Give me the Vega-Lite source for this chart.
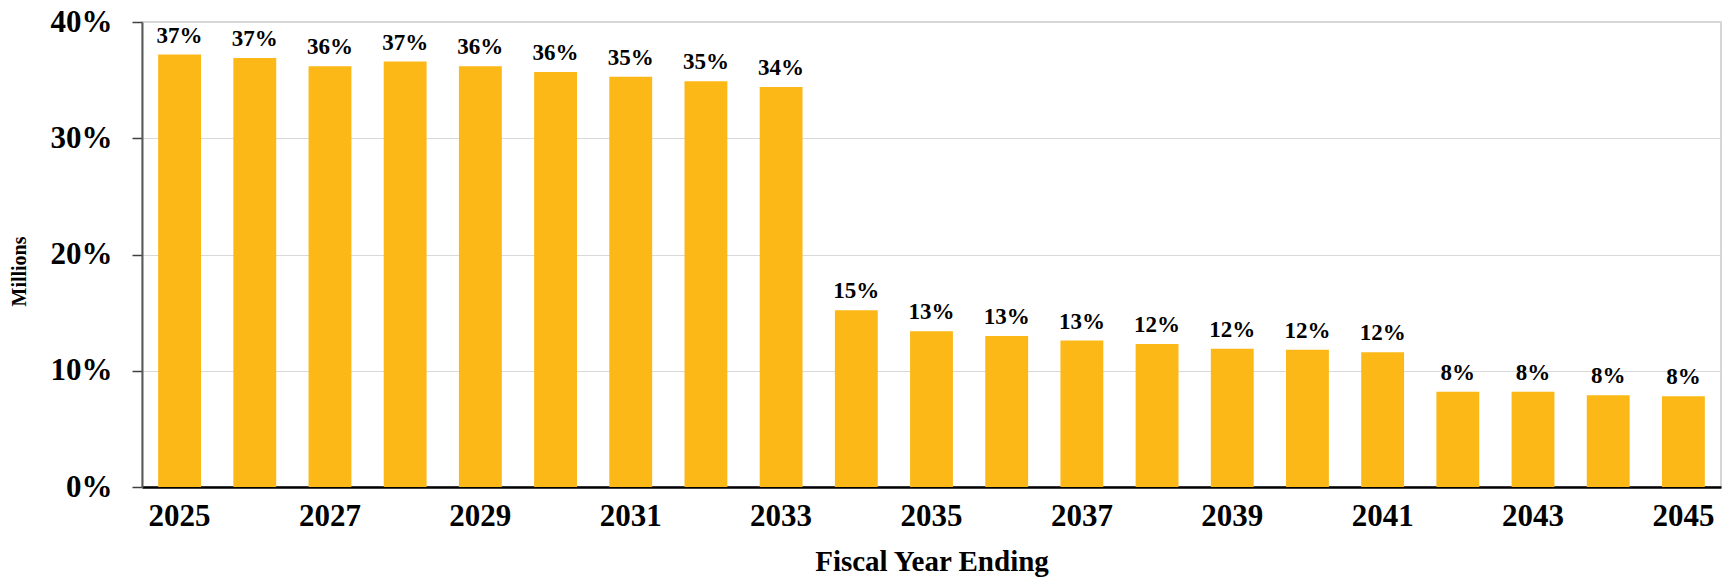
{
  "$schema": "https://vega.github.io/schema/vega-lite/v6.json",
  "width": 1579,
  "height": 465,
  "autosize": {"type": "none"},
  "padding": {"left": 142, "top": 22, "right": 2, "bottom": 91},
  "background": "white",
  "config": {
    "view": {"stroke": "#c8c8c8", "strokeWidth": 1.5},
    "font": "Liberation Serif"
  },
  "data": {
    "values": [
      {"year": "2025", "share": 0.372},
      {"year": "2026", "share": 0.369},
      {"year": "2027", "share": 0.362},
      {"year": "2028", "share": 0.366},
      {"year": "2029", "share": 0.362},
      {"year": "2030", "share": 0.357},
      {"year": "2031", "share": 0.353},
      {"year": "2032", "share": 0.349},
      {"year": "2033", "share": 0.344},
      {"year": "2034", "share": 0.152},
      {"year": "2035", "share": 0.134},
      {"year": "2036", "share": 0.130},
      {"year": "2037", "share": 0.126},
      {"year": "2038", "share": 0.123},
      {"year": "2039", "share": 0.119},
      {"year": "2040", "share": 0.118},
      {"year": "2041", "share": 0.116},
      {"year": "2042", "share": 0.082},
      {"year": "2043", "share": 0.082},
      {"year": "2044", "share": 0.079},
      {"year": "2045", "share": 0.078}
    ]
  },
  "encoding": {
    "x": {
      "field": "year",
      "type": "ordinal",
      "scale": {"paddingInner": 0.43, "paddingOuter": 0.215},
      "axis": {
        "title": "Fiscal Year Ending",
        "labelAngle": 0,
        "labelExpr": "(toNumber(datum.value) - 2025) % 2 == 0 ? datum.value : ''",
        "labelFont": "Liberation Serif",
        "labelFontWeight": "bold",
        "labelFontSize": 31,
        "labelColor": "black",
        "labelPadding": 14,
        "ticks": false,
        "domainColor": "black",
        "domainWidth": 2.5,
        "titleFont": "Liberation Serif",
        "titleFontWeight": "bold",
        "titleFontSize": 29,
        "titleColor": "black",
        "titlePadding": 16
      }
    },
    "y": {
      "field": "share",
      "type": "quantitative",
      "scale": {"domain": [0, 0.4]},
      "axis": {
        "title": "Millions",
        "format": ".0%",
        "values": [0, 0.1, 0.2, 0.3, 0.4],
        "labelOverlap": false,
        "labelFont": "Liberation Serif",
        "labelFontWeight": "bold",
        "labelFontSize": 31,
        "labelColor": "black",
        "labelPadding": 20,
        "tickSize": 10,
        "tickColor": "#404040",
        "tickWidth": 1.5,
        "domainColor": "#595959",
        "domainWidth": 2,
        "gridColor": "#d9d9d9",
        "gridWidth": 1,
        "titleFont": "Liberation Serif",
        "titleFontWeight": "bold",
        "titleFontSize": 20,
        "titleColor": "black",
        "titleAngle": -90,
        "titleX": -123,
        "titleY": 249,
        "titleAlign": "center",
        "titleBaseline": "middle"
      }
    }
  },
  "layer": [
    {"mark": {"type": "bar", "color": "#FBB817"}},
    {
      "mark": {
        "type": "text",
        "baseline": "bottom",
        "dy": -7,
        "font": "Liberation Serif",
        "fontWeight": "bold",
        "fontSize": 23,
        "color": "black"
      },
      "encoding": {
        "text": {"field": "share", "type": "quantitative", "format": ".0%"}
      }
    }
  ]
}
